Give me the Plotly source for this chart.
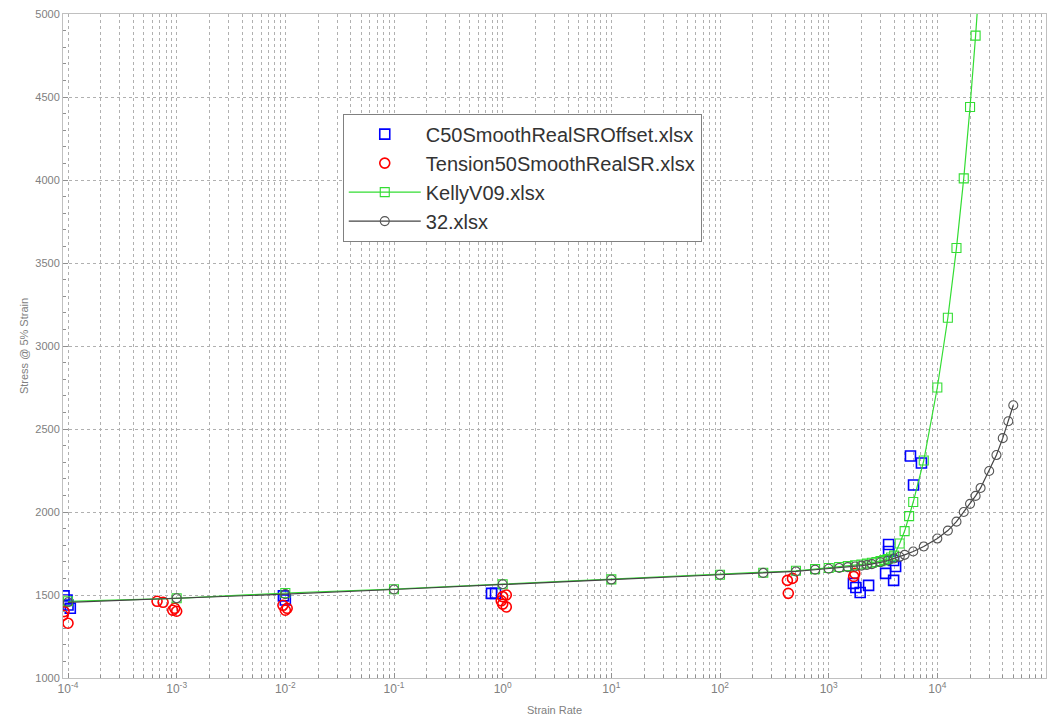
import plotly.graph_objects as go
import math

# ---------------- data ----------------
c50_x = [9.2e-5, 9.8e-5, 1.0e-4, 1.05e-4, 9.6e-3, 1.0e-2, 0.79, 0.86,
         1690, 1780, 1950, 2330, 3340, 3560, 3560, 3960, 3960, 4130, 5660, 6040, 7140]
c50_y = [1495, 1470, 1440, 1420, 1495, 1470, 1510, 1510,
         1570, 1545, 1515, 1558, 1630, 1804, 1762, 1588, 1708, 1672, 2337, 2163, 2295]

ten_x = [9.0e-5, 9.2e-5, 1.0e-4, 6.6e-4, 7.5e-4, 9.2e-4, 9.6e-4, 1.0e-3,
         9.5e-3, 1.0e-2, 1.04e-2, 0.97, 1.0, 1.0, 1.08, 1.08, 417, 464, 425, 1700, 1740]
ten_y = [1378, 1400, 1330, 1462, 1456, 1408, 1420, 1402,
         1438, 1408, 1420, 1465, 1490, 1445, 1500, 1428, 1588, 1600, 1510, 1612, 1630]

kelly_x = [1e-4, 1e-3, 1e-2, 1e-1, 1, 10, 100, 250, 500, 750, 1000, 1250, 1500, 1750,
           2000, 2250, 2500, 2750, 3000, 3250, 3500, 3750, 4000, 4500, 5000, 5500, 6000,
           7500, 10000, 12500, 15000, 17500, 20000, 22500, 25000]
kelly_y = [1462, 1480, 1512, 1535, 1565, 1594, 1622, 1634, 1646, 1656, 1663, 1669, 1674, 1679,
           1684, 1689, 1694, 1699, 1704, 1710, 1717, 1726, 1737, 1810, 1885, 1975, 2060,
           2310, 2750, 3170, 3590, 4010, 4440, 4870, 5300]

k32_x = [1e-4, 1e-3, 1e-2, 1e-1, 1, 10, 100, 250, 500, 750, 1000, 1250, 1500, 1750,
         2000, 2250, 2500, 3000, 3500, 4000, 4500, 5000, 6000, 7500, 10000, 12500,
         15000, 17500, 20000, 22500, 25000, 30000, 35000, 40000, 45000, 50000]
k32_y = [1456, 1480, 1505, 1533, 1565, 1593, 1622, 1633, 1642, 1652, 1658, 1663, 1668, 1672,
         1677, 1681, 1686, 1697, 1708, 1720, 1730, 1742, 1762, 1792, 1840, 1888,
         1942, 2000, 2049, 2097, 2145, 2247, 2343, 2445, 2547, 2643]

x_tick_exp = [-4, -3, -2, -1, 0, 1, 2, 3, 4, 5]
y_ticks = [1000, 1500, 2000, 2500, 3000, 3500, 4000, 4500, 5000]

# ---------------- figure ----------------
FONT = "Liberation Sans, Arial, sans-serif"
GRID = "#b0b0b0"
TICKCOL = "#808080"

fig = go.Figure()
fig.add_trace(go.Scatter(x=c50_x, y=c50_y, mode="markers", name="C50SmoothRealSROffset.xlsx",
                         legendgroup="a",
                         marker=dict(symbol="square-open", size=10, color="#0000ff",
                                     line=dict(width=1.6, color="#0000ff"))))
fig.add_trace(go.Scatter(x=ten_x, y=ten_y, mode="markers", name="Tension50SmoothRealSR.xlsx",
                         legendgroup="b",
                         marker=dict(symbol="circle-open", size=10, color="#ff0000",
                                     line=dict(width=1.6, color="#ff0000"))))
fig.add_trace(go.Scatter(x=kelly_x, y=kelly_y, mode="lines+markers", name="KellyV09.xlsx",
                         legendgroup="c",
                         line=dict(color="#33dd33", width=1.2),
                         marker=dict(symbol="square-open", size=9, color="#33dd33",
                                     line=dict(width=1.1, color="#33dd33"))))
fig.add_trace(go.Scatter(x=k32_x, y=k32_y, mode="lines+markers", name="32.xlsx",
                         legendgroup="d",
                         line=dict(color="#444444", width=1.2),
                         marker=dict(symbol="circle-open", size=9, color="#555555",
                                     line=dict(width=1.1, color="#555555"))))

minor_x = [m * 10 ** e for e in range(-5, 5) for m in range(2, 10)]

fig.update_layout(
    width=1055, height=722,
    margin=dict(l=63, r=8, t=13, b=42),
    paper_bgcolor="white", plot_bgcolor="white",
    font=dict(family=FONT, color=TICKCOL, size=11),
    showlegend=True,
    legend=dict(x=0.2846, y=0.850, xanchor="left", yanchor="top",
                bgcolor="white", bordercolor="#808080", borderwidth=1,
                font=dict(family=FONT, size=20, color="#333333"),
                itemwidth=72, tracegroupgap=0),
    xaxis=dict(type="log", range=[-4.046, 5.0],
               tickvals=[10 ** e for e in x_tick_exp],
               ticktext=[f"10<sup>{e}</sup>" for e in x_tick_exp],
               ticks="inside", ticklen=5, tickcolor="#909090",
               showline=True, linecolor="#c0c0c0", linewidth=1, mirror=True,
               showgrid=True, gridcolor=GRID, griddash="dot", gridwidth=1,
               zeroline=False,
               tickfont=dict(size=12, color=TICKCOL),
               title=dict(text="Strain Rate", font=dict(size=11, color=TICKCOL), standoff=10),
               minor=dict(tickvals=minor_x, showgrid=True, gridcolor=GRID, griddash="dot",
                          gridwidth=1, ticks="inside", ticklen=3, tickcolor="#909090")),
    yaxis=dict(range=[1000, 5000], tickvals=y_ticks,
               ticks="inside", ticklen=5, tickcolor="#909090",
               showline=True, linecolor="#c0c0c0", linewidth=1, mirror=True,
               showgrid=True, gridcolor=GRID, griddash="dot", gridwidth=1,
               zeroline=False,
               tickfont=dict(size=11, color=TICKCOL),
               title=dict(text="Stress @ 5% Strain", font=dict(size=11, color=TICKCOL), standoff=4),
               minor=dict(dtick=100, ticks="inside", ticklen=3, tickcolor="#909090", showgrid=False)),
)

fig.write_html("out.html")
